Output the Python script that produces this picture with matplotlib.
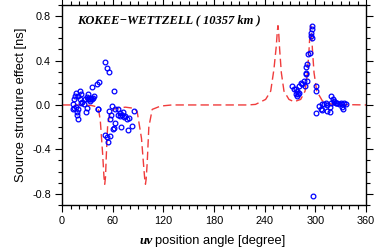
import matplotlib
matplotlib.use("Agg")
import matplotlib.pyplot as plt
from matplotlib.ticker import MultipleLocator, FormatStrFormatter

# model curve (angle in degrees, effect in ns)
curve_angle = [0, 20, 35, 40, 43.4, 45.3, 48.1, 49.6, 50.5, 51.4, 52.4, 54, 57.2, 63,
               75, 85, 88.9, 94, 96.8, 98.0, 98.7, 99.5, 100.8, 102.7, 106.7, 116.6,
               130, 220, 229, 241, 247, 250.8, 253.6, 254.8, 255.6, 256.4, 257.6,
               259.6, 262.7, 268.6, 274.6, 282.5, 287.7, 290.5, 292.4, 293.6, 294.4,
               295.2, 296.4, 298.3, 301.5, 308.3, 320, 360]
curve_value = [0.0, 0.0, -0.005, -0.015, -0.05, -0.146, -0.45, -0.65, -0.714, -0.65,
               -0.45, -0.177, -0.06, -0.03, -0.02, -0.03, -0.06, -0.30, -0.57, -0.68,
               -0.714, -0.67, -0.52, -0.20, -0.04, -0.01, 0.0, 0.0, 0.005, 0.05, 0.125,
               0.32, 0.53, 0.66, 0.714, 0.66, 0.50, 0.29, 0.125, 0.05, 0.029, 0.05,
               0.125, 0.29, 0.50, 0.66, 0.714, 0.66, 0.50, 0.29, 0.125, 0.035, 0.005, 0.0]

# observed points (blue circles)
obs_angle = [50.8, 52.8, 55.4, 43.7, 41.7, 35, 61.2, 16.4, 21.5, 22.3, 19.2, 31, 14, 21,
             27, 31, 32.5, 33.5, 34.5, 35.5, 33, 37, 22, 16.4, 13.2, 19.2, 29, 28.3, 18,
             19.2, 43, 59, 66.7, 63, 56.8, 62.7, 60.7, 50.8, 53, 56.5, 54.8, 68.7, 71,
             73, 74.6, 77, 79, 61.2, 70.2, 78.2, 83, 85, 55.2, 42.5, 13.6, 12.5, 24, 26,
             15, 17.5, 30, 38, 66, 68, 72, 58,
             295.6, 296.4, 295.2, 294.4, 295.6, 293.2, 291.7, 290.4, 289.3, 288.5, 288.8,
             289.7, 286.5, 284.5, 282.5, 287.7, 280.5, 278.6, 276.6, 272.7, 274.6, 279,
             277, 280, 278, 300.4, 300.2, 300.5, 296.8, 318.5, 320.2, 322.5, 324.5,
             304.3, 306.3, 308.3, 308.3, 310, 312, 314, 313.4, 317.4, 318.3, 317.4, 326,
             328, 330, 332, 334, 336, 332, 332.8, 322, 324]
obs_value = [0.385, 0.33, 0.30, 0.21, 0.19, 0.158, 0.13, 0.104, 0.125, 0.10, 0.08, 0.095,
             0.05, 0.05, 0.05, 0.05, 0.055, 0.05, 0.06, 0.05, 0.04, 0.065, 0.02, -0.016,
             -0.04, -0.04, -0.025, -0.065, -0.086, -0.13, -0.04, -0.01, -0.04, -0.04,
             -0.13, -0.16, -0.22, -0.27, -0.285, -0.28, -0.33, -0.07, -0.09, -0.11,
             -0.095, -0.13, -0.12, -0.21, -0.20, -0.23, -0.19, -0.05, -0.056, -0.04,
             -0.025, 0.01, 0.03, 0.01, 0.08, -0.06, 0.07, 0.08, -0.09, -0.1, -0.06, -0.09,
             0.714, 0.685, 0.65, 0.62, 0.60, 0.47, 0.46, 0.37, 0.34, 0.29, 0.277, 0.22,
             0.216, 0.186, 0.20, 0.17, 0.17, 0.125, 0.14, 0.17, 0.14, 0.10, 0.095, 0.11,
             0.085, 0.17, 0.125, -0.068, -0.823, 0.08, 0.05, 0.035, 0.02, -0.01, -0.035,
             -0.047, 0.005, 0.01, 0.015, 0.0, -0.056, -0.065, 0.02, -0.016, 0.014, 0.01,
             0.014, 0.012, 0.014, 0.01, -0.016, -0.04, 0.03, 0.014]

sans = "Liberation Sans"
serif = "Liberation Serif"

fig = plt.figure(figsize=(3.74, 2.52), dpi=100)
ax = fig.add_axes([0.166, 0.187, 0.813, 0.793])

ax.plot(curve_angle, curve_value, color="#f03c3c", lw=1.0, dashes=(6, 3))
ax.plot(obs_angle, obs_value, ls="none", marker="o", ms=3.4, mfc="none",
        mec="#0000ff", mew=0.9)

ax.set_xlim(0, 360)
ax.set_ylim(-0.9, 0.9)
ax.xaxis.set_major_locator(MultipleLocator(60))
ax.xaxis.set_minor_locator(MultipleLocator(10))
ax.yaxis.set_major_locator(MultipleLocator(0.4))
ax.yaxis.set_minor_locator(MultipleLocator(0.1))
ax.yaxis.set_major_formatter(FormatStrFormatter("%.1f"))
ax.tick_params(which="both", direction="out", top=True, right=True, width=0.8)
ax.tick_params(which="major", length=5, labelsize=7.8, pad=3)
ax.tick_params(which="minor", length=3)
for lab in ax.get_xticklabels() + ax.get_yticklabels():
    lab.set_family(sans)
for s in ax.spines.values():
    s.set_linewidth(1.0)

ax.text(0.05, 0.925, "KOKEE\u2212WETTZELL ( 10357 km )", transform=ax.transAxes,
        family=serif, style="italic", weight="bold", fontsize=9, va="center")

ax.set_ylabel("Source structure effect [ns]", family=sans, fontsize=9.3, labelpad=4)
fig.text(153 / 374, 1 - 241 / 252, "uv", family=serif, style="italic",
         weight="bold", fontsize=9.5, ha="right", va="center")
fig.text(155 / 374, 1 - 241 / 252, "position angle [degree]", family=sans,
         fontsize=9.3, ha="left", va="center")

fig.savefig("out.png", dpi=100)
